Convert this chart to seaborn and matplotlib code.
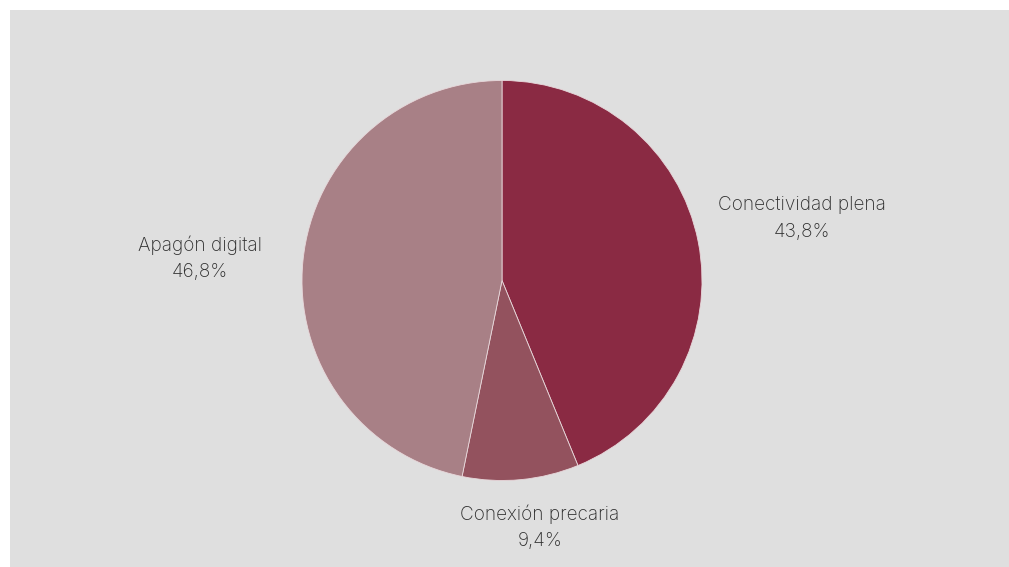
import matplotlib
matplotlib.use("Agg")
import matplotlib.pyplot as plt
import seaborn as sns
import numpy as np
from matplotlib.patches import Rectangle

categories = ["Conectividad plena", "Conexión precaria", "Apagón digital"]
values = [43.8, 9.4, 46.8]
value_labels = ["43,8%", "9,4%", "46,8%"]
colors = ["#8A2A43", "#93525E", "#A88086"]

# label anchor positions in pie-radius units (layout only)
label_xy = [(1.50, 0.31), (0.19, -1.235), (-1.51, 0.11)]

sns.set_theme(style="white")
plt.rcParams['font.family'] = ['Inter', 'DejaVu Sans']

W, H = 1009, 567
fig = plt.figure(figsize=(W / 100, H / 100), dpi=100)
fig.patch.set_facecolor("white")
fig.add_artist(Rectangle((10 / W, 0), 1 - 10 / W, (H - 10) / H, transform=fig.transFigure,
                         facecolor="#DFDFDF", edgecolor="none", zorder=0))

cx, cy, r = 502, H - 280.5, 200
ax = fig.add_axes([(cx - r) / W, (cy - r) / H, 2 * r / W, 2 * r / H])
ax.set_facecolor("none")
wedges, _ = ax.pie(values, colors=colors, startangle=90, counterclock=False,
                   wedgeprops=dict(edgecolor="#E8D8DB", linewidth=0.6), radius=1)
ax.set_xlim(-1, 1)
ax.set_ylim(-1, 1)
ax.set_aspect("equal")
ax.axis("off")

for cat, vl, (x, y) in zip(categories, value_labels, label_xy):
    ax.text(x, y, cat + "\n" + vl, ha="center", va="center", fontsize=13.7,
            color="#2E2E2E", fontweight="light", linespacing=1.6, clip_on=False)

fig.savefig("out.png", dpi=100, facecolor=fig.get_facecolor())
